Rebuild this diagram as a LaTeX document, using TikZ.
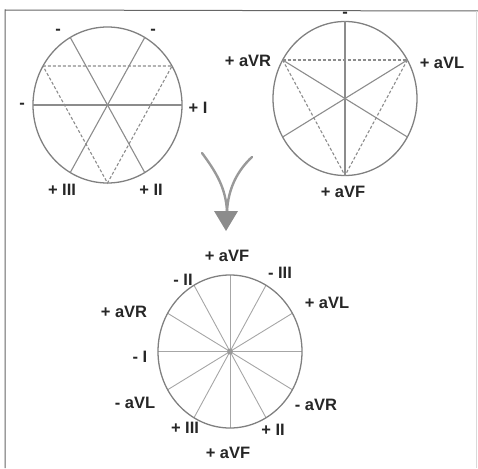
\documentclass[tikz,border=0pt]{standalone}
\usepackage{fontspec}
\setmainfont{Liberation Sans}
\begin{document}
\begin{tikzpicture}[x=1pt,y=-1pt,
  circ/.style={draw=black!50,line width=1.3pt},
  leadline/.style={draw=black!45,line width=1.1pt},
  dashline/.style={draw=black!45,line width=1.1pt,dash pattern=on 3pt off 2pt},
  spoke/.style={draw=black!35,line width=0.9pt},
  lbl/.style={inner sep=0pt,text=black!85,font=\fontsize{16.5}{16.5}\selectfont\bfseries},
  framec/.style={draw=black!60,line width=1pt},
  arrowc/.style={draw=black!40,line width=2.4pt,line cap=round}]
\useasboundingbox (0,0) rectangle (478,468);
% frame
\coordinate (fbl) at (5,468);
\coordinate (ftl) at (5,10);
\coordinate (ftr) at (478,11);
\draw[framec] (fbl) -- (ftl) -- (ftr);
\coordinate (frt) at (476,11);
\coordinate (frb) at (476,468);
\draw[draw=black!15,line width=0.8pt] (frt) -- (frb);

% ---- circle 1 (bipolar limb leads)
\coordinate (c1) at (107.5,105);
\foreach \a in {0,30,...,330} { \path (c1) ++(-\a:74.5 and 78) coordinate (c1p\a); }
\draw[circ] (c1) ellipse [x radius=74.5, y radius=78];
\draw[leadline] (c1p180) -- (c1p0);
\draw[leadline] (c1p120) -- (c1p300);
\draw[leadline] (c1p60) -- (c1p240);
\draw[dashline] (c1p150) -- (c1p30) -- (c1p270) -- cycle;
\node[lbl] (m1a) at (58,32) {-};
\node[lbl] (m1b) at (153,32) {-};
\node[lbl] (m1c) at (22,106) {-};
\node[lbl] (l1I) at (198,108) {+ I};
\node[lbl] (l1III) at (62,190) {+ III};
\node[lbl] (l1II) at (151,190) {+ II};

% ---- circle 2 (augmented leads)
\coordinate (c2) at (345,98.5);
\foreach \a in {0,30,...,330} { \path (c2) ++(-\a:72 and 77) coordinate (c2p\a); }
\draw[circ] (c2) ellipse [x radius=72, y radius=77];
\draw[leadline] (c2p90) -- (c2p270);
\draw[leadline] (c2p150) -- (c2p330);
\draw[leadline] (c2p30) -- (c2p210);
\draw[dashline] (c2p150) -- (c2p30);
\draw[dashline] (c2p150) -- (c2p270);
\draw[dashline] (c2p30) -- (c2p270);
\node[lbl] (m2) at (345,15) {-};
\node[lbl] (l2VR) at (248,61) {+ aVR};
\node[lbl] (l2VL) at (442,63) {+ aVL};
\node[lbl] (l2VF) at (343,192) {+ aVF};

% ---- merging arrow
\coordinate (arL) at (202,153);
\coordinate (arR) at (252,157);
\coordinate (arM) at (227,212);
\draw[arrowc] (arL) .. controls (216,172) and (226,188) .. (arM);
\draw[arrowc] (arR) .. controls (238,170) and (228,188) .. (arM);
\coordinate (ah1) at (214,211);
\coordinate (ah2) at (238,211);
\coordinate (ah3) at (226,231);
\fill[black!45] (ah1) -- (ah2) -- (ah3) -- cycle;

% ---- circle 3 (hexaxial)
\coordinate (c3) at (230,351.5);
\foreach \a in {0,30,...,330} { \path (c3) ++(-\a:72 and 76.5) coordinate (c3p\a); }
\foreach \a in {0,30,...,330} { \draw[spoke] (c3) -- (c3p\a); }
\draw[circ] (c3) ellipse [x radius=72, y radius=76.5];
\fill[black!40] (c3) circle (3);
\node[lbl] (l3t) at (227,256) {+ aVF};
\node[lbl] (l3mII) at (183,280) {- II};
\node[lbl] (l3mIII) at (280,273) {- III};
\node[lbl] (l3VL) at (327,303) {+ aVL};
\node[lbl] (l3VR) at (124,312) {+ aVR};
\node[lbl] (l3mI) at (140,357) {- I};
\node[lbl] (l3mVL) at (135,403) {- aVL};
\node[lbl] (l3mVR) at (316,405) {- aVR};
\node[lbl] (l3III) at (185,428) {+ III};
\node[lbl] (l3II) at (273,430) {+ II};
\node[lbl] (l3b) at (228,453) {+ aVF};
\end{tikzpicture}
\end{document}
